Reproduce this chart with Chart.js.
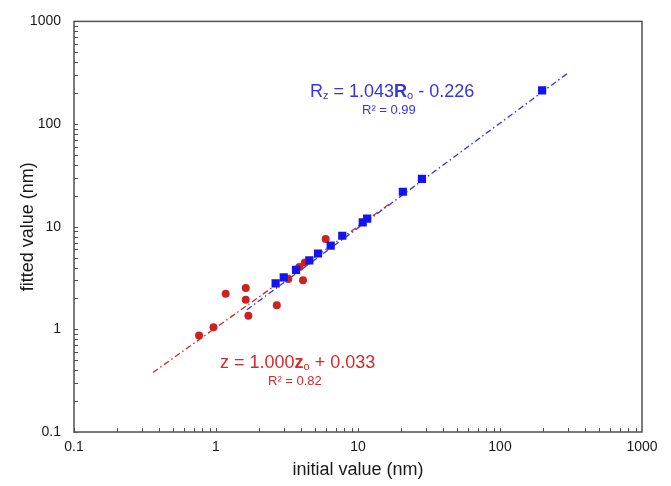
<!DOCTYPE html>
<html><head><meta charset="utf-8">
<script src="https://cdn.jsdelivr.net/npm/chart.js@4.4.1/dist/chart.umd.min.js"></script>
<style>
html,body{margin:0;padding:0;background:#fff;}
#wrap{position:relative;width:671px;height:486px;font-family:"Liberation Sans",Arial,sans-serif;}
canvas{display:block;}
.eq{position:absolute;white-space:nowrap;line-height:1;}
.sub{font-size:11px;vertical-align:-2px;}
</style></head>
<body>
<div id="wrap">
<canvas id="c" width="671" height="486"></canvas>
<div class="eq" style="left:310px;top:82px;font-size:18px;color:#3535E2">R<span class="sub">z</span> = 1.043<b>R</b><span class="sub">o</span> - 0.226</div>
<div class="eq" style="left:362px;top:103px;font-size:13px;color:#3535E2">R² = 0.99</div>
<div class="eq" style="left:220px;top:353px;font-size:18px;color:#D42A2A">z = 1.000<b>z</b><span class="sub">o</span> + 0.033</div>
<div class="eq" style="left:268px;top:374px;font-size:13px;color:#D42A2A">R² = 0.82</div>
</div>
<script>
const tickValues = [0.1, 1, 10, 100, 1000];
const tickLabels = ['0.1', '1', '10', '100', '1000'];

const zInitial = [0.76, 0.96, 1.17, 1.62, 1.62, 1.69, 2.68, 3.23, 3.86, 4.10, 4.23, 5.92];
const zFitted  = [0.87, 1.05, 2.22, 2.53, 1.94, 1.36, 1.72, 3.09, 4.06, 3.00, 4.47, 7.59];

const rInitial = [2.63, 3.00, 3.66, 4.54, 5.23, 6.42, 7.75, 10.8, 11.6, 20.7, 28.2, 198];
const rFitted  = [2.81, 3.21, 3.80, 4.70, 5.48, 6.54, 8.16, 11.0, 12.0, 21.9, 29.2, 213];

const zTrendX = [0.36, 17];
const zTrendY = [0.38, 17];
const rTrendX = [1.65, 300];
const rTrendY = [1.55, 313];

const pts = (xs, ys) => xs.map((v, i) => ({x: v, y: ys[i]}));
const FONT = '"Liberation Sans", Arial, sans-serif';
const labelFor = v => { const i = tickValues.findIndex(t => Math.abs(t - v) / t < 1e-6); return i >= 0 ? tickLabels[i] : ''; };

const framePlugin = {
  id: 'frame',
  afterDraw(chart) {
    const {ctx, chartArea: a, scales: {x, y}} = chart;
    ctx.save();
    ctx.strokeStyle = '#505050';
    ctx.lineWidth = 1;
    ctx.beginPath();
    for (const d of tickValues.slice(0, 4)) {
      for (let m = 1; m <= 9; m++) {
        const v = d * m;
        const px = Math.round(x.getPixelForValue(v)) + 0.5;
        ctx.moveTo(px, a.bottom); ctx.lineTo(px, a.bottom - 4);
        const py = Math.round(y.getPixelForValue(v)) + 0.5;
        ctx.moveTo(a.left, py); ctx.lineTo(a.left + 4, py);
      }
    }
    ctx.stroke();
    ctx.lineWidth = 1.5;
    ctx.strokeRect(a.left, a.top, a.right - a.left, a.bottom - a.top);
    ctx.restore();
  }
};

const axisCommon = {
  type: 'logarithmic', min: 0.1, max: 1000,
  afterBuildTicks: s => { s.ticks = tickValues.map(v => ({value: v})); },
  grid: {display: false, drawTicks: false},
  border: {display: false},
};

new Chart(document.getElementById('c'), {
  type: 'scatter',
  data: {
    datasets: [
      {label: 'R', data: pts(rInitial, rFitted), pointStyle: 'rect', pointRadius: 5.8, pointHoverRadius: 5.8,
       backgroundColor: '#1414F0', borderWidth: 0, order: 0},
      {label: 'z', data: pts(zInitial, zFitted), pointStyle: 'circle', pointRadius: 4, pointHoverRadius: 4,
       backgroundColor: '#CC2222', borderWidth: 0, order: 1},
      {label: 'R trend', data: pts(rTrendX, rTrendY), showLine: true, pointRadius: 0, borderColor: '#3030E8',
       borderWidth: 1.3, borderDash: [6, 3, 1.5, 3], order: 2},
      {label: 'z trend', data: pts(zTrendX, zTrendY), showLine: true, pointRadius: 0, borderColor: '#D02828',
       borderWidth: 1.3, borderDash: [6, 3, 1.5, 3], order: 3}
    ]
  },
  options: {
    responsive: false,
    animation: false,
    layout: {padding: {left: 0, right: 29, top: 15, bottom: 0}},
    plugins: {legend: {display: false}, tooltip: {enabled: false}},
    scales: {
      x: Object.assign({}, axisCommon, {
        position: 'bottom',
        afterFit: s => { s.height = 54; },
        ticks: {autoSkip: false, maxRotation: 0, padding: 7, color: '#1a1a1a', font: {family: FONT, size: 14}, callback: v => labelFor(v)},
        title: {display: true, text: 'initial value (nm)', color: '#1a1a1a', font: {family: FONT, size: 18}, padding: {top: 0, bottom: 5}}
      }),
      y: Object.assign({}, axisCommon, {
        position: 'left',
        afterFit: s => { s.width = 74; },
        ticks: {autoSkip: false, padding: 13, color: '#1a1a1a', font: {family: FONT, size: 14}, callback: v => labelFor(v)},
        title: {display: true, text: 'fitted value (nm)', color: '#1a1a1a', font: {family: FONT, size: 18}, padding: {top: 17, bottom: 0}}
      })
    }
  },
  plugins: [framePlugin]
});
</script>
</body></html>
